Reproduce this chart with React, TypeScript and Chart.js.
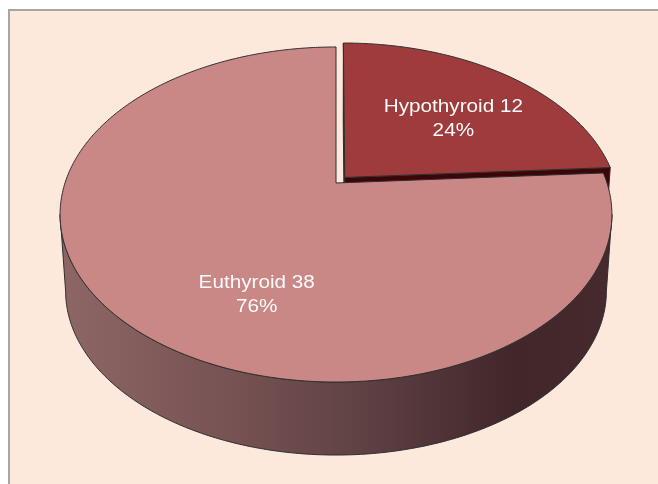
import { useEffect, useRef } from 'react';
import { Chart, registerables } from 'chart.js';

Chart.register(...registerables);

// ---- data ----
const categories = ['Hypothyroid', 'Euthyroid'];
const values = [12, 38];

// ---- styles ----
const TOP_COLORS = ['#9e3b3c', '#c98886'];
const WALL_COLORS = ['#3c0507', '#6a4a4c'];
const EXPLODE = [8.5, 0];

const pie3dPlugin = {
  id: 'pie3d',
  beforeDraw(chart: any) {
    const ctx = chart.ctx;
    ctx.save();
    ctx.fillStyle = '#ffffff';
    ctx.fillRect(0, 0, chart.width, chart.height);
    ctx.fillStyle = '#fde9dc';
    ctx.fillRect(8, 9, chart.width - 8, chart.height - 9);
    ctx.fillStyle = '#a6a6a6';
    ctx.fillRect(8, 9, 2, chart.height - 9);
    ctx.fillRect(8, 9, chart.width - 8, 2);
    ctx.restore();
  },
  beforeDatasetsDraw(chart: any, _args: any, opts: any) {
    const ctx: CanvasRenderingContext2D = chart.ctx;
    const meta = chart.getDatasetMeta(0);
    const arcs = meta.data;
    if (!arcs.length) return false;
    const cx = arcs[0].x;
    const cy = arcs[0].y;
    const { k, A, B, s, D } = opts;
    const P = (u: number, v: number, bottom = false): [number, number] => {
      const w = 1 + k * v;
      const sc = bottom ? s : 1;
      return [cx + (sc * A * u) / w, cy + (bottom ? D : 0) - (sc * B * v) / w];
    };
    const arcPts = (ou: number, ov: number, from: number, to: number, bottom: boolean) => {
      const pts: [number, number][] = [];
      const n = Math.max(2, Math.ceil(Math.abs(to - from) / 0.01));
      for (let j = 0; j <= n; j++) {
        const a = from + ((to - from) * j) / n;
        pts.push(P(ou + Math.sin(a), ov + Math.cos(a), bottom));
      }
      return pts;
    };
    const grad = ctx.createLinearGradient(cx - A * 1.02, 0, cx + A * 1.02, 0);
    grad.addColorStop(0, '#8e6666');
    grad.addColorStop(0.3, '#785353');
    grad.addColorStop(0.55, '#5f4144');
    grad.addColorStop(0.82, '#41262a');
    grad.addColorStop(1, '#462a2d');

    const items = arcs
      .map((arc: any, i: number) => {
        const a0 = arc.startAngle + Math.PI / 2;
        const a1 = arc.endAngle + Math.PI / 2;
        const mid = (a0 + a1) / 2;
        const e = (arc.options.offset || 0) / arc.outerRadius;
        return { i, a0, a1, mid, ou: e * Math.sin(mid), ov: e * Math.cos(mid) };
      })
      .sort((p: any, q: any) => Math.cos(q.mid) - Math.cos(p.mid));

    const outline = '#2e2e2e';
    const aL = Math.acos(-k);
    const aR = 2 * Math.PI - aL;

    for (const it of items) {
      const { i, a0, a1, ou, ov } = it;
      // radial walls
      const edges = [
        { a: a0, nu: -Math.cos(a0), nv: Math.sin(a0) },
        { a: a1, nu: Math.cos(a1), nv: -Math.sin(a1) },
      ];
      for (const ed of edges) {
        const vis = -ou * ed.nu + (-1 / k - ov) * ed.nv;
        if (vis <= 1e-3) continue;
        const c0 = P(ou, ov);
        const e0 = P(ou + Math.sin(ed.a), ov + Math.cos(ed.a));
        const e1 = P(ou + Math.sin(ed.a), ov + Math.cos(ed.a), true);
        const c1 = P(ou, ov, true);
        ctx.beginPath();
        ctx.moveTo(c0[0], c0[1]);
        ctx.lineTo(e0[0], e0[1]);
        ctx.lineTo(e1[0], e1[1]);
        ctx.lineTo(c1[0], c1[1]);
        ctx.closePath();
        ctx.fillStyle = WALL_COLORS[i];
        ctx.fill();
        ctx.strokeStyle = outline;
        ctx.lineWidth = 1;
        ctx.stroke();
      }
      // outer side
      const lo = Math.max(a0, aL);
      const hi = Math.min(a1, aR);
      if (hi > lo) {
        const topPts = arcPts(ou, ov, lo, hi, false);
        const botPts = arcPts(ou, ov, hi, lo, true);
        ctx.beginPath();
        topPts.forEach((p, j) => (j ? ctx.lineTo(p[0], p[1]) : ctx.moveTo(p[0], p[1])));
        botPts.forEach((p) => ctx.lineTo(p[0], p[1]));
        ctx.closePath();
        ctx.fillStyle = grad;
        ctx.fill();
        ctx.strokeStyle = outline;
        ctx.lineWidth = 1;
        ctx.stroke();
      }
      // top face
      const c = P(ou, ov);
      const pts = arcPts(ou, ov, a0, a1, false);
      ctx.beginPath();
      ctx.moveTo(c[0], c[1]);
      pts.forEach((p) => ctx.lineTo(p[0], p[1]));
      ctx.closePath();
      ctx.fillStyle = TOP_COLORS[i];
      ctx.fill();
      ctx.strokeStyle = outline;
      ctx.lineWidth = 1;
      ctx.stroke();
    }

    // labels
    const total = values.reduce((a, b) => a + b, 0);
    ctx.save();
    ctx.fillStyle = '#fbfbfb';
    ctx.font = '18px "Liberation Sans", Arial, sans-serif';
    ctx.textAlign = 'center';
    ctx.textBaseline = 'alphabetic';
    for (const it of items) {
      const { i, mid, ou, ov } = it;
      const rf = opts.labelRadius;
      const p = P(ou + rf * Math.sin(mid), ov + rf * Math.cos(mid));
      const sh = opts.labelShift[i];
      const x = p[0] + sh[0];
      const y = p[1] + sh[1];
      const lines = [`${categories[i]} ${values[i]}`, `${Math.round((values[i] / total) * 100)}%`];
      lines.forEach((t, j) => {
        ctx.save();
        ctx.translate(x, y - 12 + 6.5 + j * 24);
        ctx.scale(1.15, 1);
        ctx.fillText(t, 0, 0);
        ctx.restore();
      });
    }
    ctx.restore();
    return false;
  },
};

export default function App() {
  const ref = useRef<HTMLCanvasElement | null>(null);
  useEffect(() => {
    if (!ref.current) return;
    const chart = new Chart(ref.current, {
      type: 'pie',
      data: {
        labels: categories,
        datasets: [
          {
            data: values,
            backgroundColor: TOP_COLORS,
            offset: EXPLODE,
            borderWidth: 0,
          },
        ],
      },
      options: {
        responsive: false,
        animation: false,
        devicePixelRatio: 1,
        layout: { padding: { left: 14, right: 0, top: 0, bottom: 118 } },
        plugins: {
          legend: { display: false },
          tooltip: { enabled: false },
          pie3d: {
            k: 0.188,
            A: 271,
            B: 161.6,
            s: 0.98,
            D: 77,
            labelRadius: 0.6,
            labelShift: [
              [7, 5],
              [42, 33],
            ],
          },
        },
      } as any,
      plugins: [pie3dPlugin as any],
    });
    return () => chart.destroy();
  }, []);
  return (
    <div style={{ position: 'fixed', left: 0, top: 0, width: 658, height: 484 }}>
      <canvas ref={ref} width={658} height={484} style={{ display: 'block', width: 658, height: 484 }} />
    </div>
  );
}
